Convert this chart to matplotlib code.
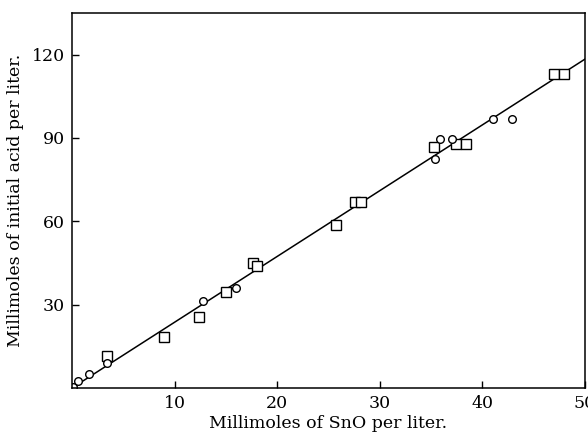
import numpy as np
import matplotlib
matplotlib.use("Agg")
import matplotlib.pyplot as plt

# points
circ_x = [0.1, 0.6, 1.7, 3.4, 12.8, 16.0, 35.4, 35.9, 37.0, 41.0, 42.9]
circ_y = [0.5, 2.5, 5.0, 9.0, 31.4, 36.0, 82.4, 89.7, 89.8, 96.8, 97.0]
sq_x = [3.4, 9.0, 12.4, 15.0, 17.6, 18.0, 25.7, 27.6, 28.2, 35.3, 37.4, 38.4, 47.0, 48.0]
sq_y = [11.5, 18.5, 25.6, 34.6, 45.0, 43.9, 58.6, 66.8, 66.8, 86.8, 88.0, 88.0, 113.0, 113.0]
line_x = [0, 50]
line_y = [0, 118.4]

plt.rcParams['font.family'] = ['DejaVu Serif']

fig = plt.figure(figsize=(5.88, 4.46), dpi=100)
ax = fig.add_axes([0.1224, 0.13, 0.8725, 0.8409])

ax.plot(line_x, line_y, color='black', lw=1.1)
ax.plot(sq_x, sq_y, ls='none', marker='s', ms=6.5, mfc='white', mec='black', mew=1.0)
ax.plot(circ_x, circ_y, ls='none', marker='o', ms=5.5, mfc='white', mec='black', mew=1.0)

ax.set_xlim(0, 50)
ax.set_ylim(0, 135)
ax.set_xticks([10, 20, 30, 40, 50])
ax.set_yticks([30, 60, 90, 120])
ax.tick_params(direction='in', length=5, width=1, labelsize=12.5, pad=5)
for s in ax.spines.values():
    s.set_linewidth(1.1)

ax.set_xlabel('Millimoles of SnO per liter.', fontsize=12.5, labelpad=2)
ax.set_ylabel('Millimoles of initial acid per liter.', fontsize=12.5, labelpad=6)

fig.savefig('out.png', dpi=100)
